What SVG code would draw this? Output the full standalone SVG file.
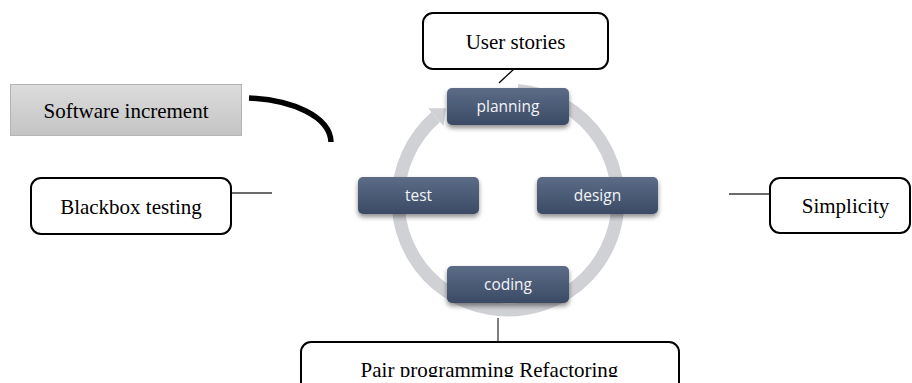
<svg xmlns="http://www.w3.org/2000/svg" width="912" height="383" viewBox="0 0 912 383">
  <style>
    .note { fill: #ffffff; stroke: #000000; stroke-width: 2; }
    .serif { font-family: "Liberation Serif", "Times New Roman", serif; font-size: 21px; fill: #000000; text-anchor: middle; }
    .step { fill: url(#stepGrad); filter: url(#shadow); }
    .steptxt { font-family: "Open Sans", "Noto Sans", sans-serif; font-size: 15.5px; fill: #f2f4f7; text-anchor: middle; }
    .link { stroke: #3a3a3a; stroke-width: 1.3; fill: none; }
  </style>
  <defs>
    <linearGradient id="stepGrad" x1="0" y1="0" x2="0" y2="1">
      <stop offset="0" stop-color="#5c6c87"/>
      <stop offset="1" stop-color="#3b4a65"/>
    </linearGradient>
    <linearGradient id="grayGrad" x1="0" y1="0" x2="0" y2="1">
      <stop offset="0" stop-color="#dcdcdc"/>
      <stop offset="1" stop-color="#c4c4c4"/>
    </linearGradient>
    <filter id="shadow" x="-20%" y="-30%" width="140%" height="170%">
      <feGaussianBlur in="SourceAlpha" stdDeviation="2.5"/>
      <feOffset dx="0" dy="3" result="b"/>
      <feComponentTransfer><feFuncA type="linear" slope="0.45"/></feComponentTransfer>
      <feMerge><feMergeNode/><feMergeNode in="SourceGraphic"/></feMerge>
    </filter>
    <clipPath id="bottomClip"><rect x="0" y="0" width="912" height="377"/></clipPath>
  </defs>

  <!-- cycle ring -->
  <g id="cycle">
    <path d="M517.6,90.4 A110,110 0 1 1 435.8,117.0" fill="none" stroke="#d0d1d5" stroke-width="13"/>
    <polygon points="428.2,108.3 446.0,108.2 443.4,125.7" fill="#d0d1d5"/>
  </g>

  <g id="connectors">
    <line class="link" x1="514" y1="69" x2="499" y2="83" style="stroke:#000"/>
    <line class="link" x1="231" y1="193" x2="272" y2="193"/>
    <line class="link" x1="729" y1="194" x2="770" y2="194"/>
    <line class="link" x1="498" y1="318" x2="498" y2="342"/>
    <path d="M249,98 C292,100 330,116 331,142" fill="none" stroke="#000" stroke-width="5.5"/>
  </g>

  <g id="planning">
    <rect class="step" x="447" y="88" width="122" height="37" rx="5"/>
    <text class="steptxt" x="508" y="112">planning</text>
  </g>
  <g id="design">
    <rect class="step" x="537" y="177" width="121" height="37" rx="5"/>
    <text class="steptxt" x="597.5" y="201">design</text>
  </g>
  <g id="coding">
    <rect class="step" x="447" y="266" width="122" height="37" rx="5"/>
    <text class="steptxt" x="508" y="290">coding</text>
  </g>
  <g id="test">
    <rect class="step" x="358" y="177" width="121" height="37" rx="5"/>
    <text class="steptxt" x="418.5" y="201">test</text>
  </g>

  <g id="user-stories">
    <rect class="note" x="423" y="13" width="185" height="56" rx="10"/>
    <text class="serif" x="515.5" y="49">User stories</text>
  </g>
  <g id="software-increment">
    <rect x="10.5" y="84.5" width="231" height="51" fill="url(#grayGrad)" stroke="#b4b4b4" stroke-width="1"/>
    <text class="serif" x="126" y="118">Software increment</text>
  </g>
  <g id="blackbox-testing">
    <rect class="note" x="31" y="178" width="200" height="56" rx="10"/>
    <text class="serif" x="131" y="214">Blackbox testing</text>
  </g>
  <g id="simplicity">
    <rect class="note" x="770" y="178" width="140" height="55" rx="10"/>
    <text class="serif" x="845.5" y="213">Simplicity</text>
  </g>
  <g id="pair-programming">
    <rect class="note" x="301" y="342" width="378" height="60" rx="10"/>
    <text class="serif" x="489.5" y="377" clip-path="url(#bottomClip)">Pair programming Refactoring</text>
  </g>
</svg>
